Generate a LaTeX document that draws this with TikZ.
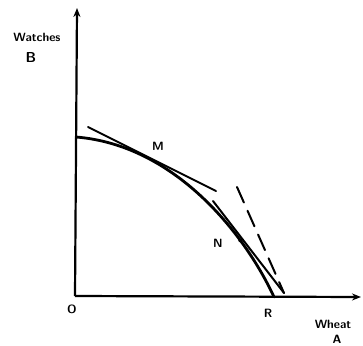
\documentclass[tikz,border=0pt]{standalone}
\usepackage{tikz}
\usetikzlibrary{arrows.meta, positioning}

\begin{document}
\begin{tikzpicture}[
        x=1pt, y=-1pt,
        >={Stealth[length=9pt, width=7pt]},
        axis/.style={line width=2.2pt, ->},
        frontier/.style={line width=2.8pt, line cap=round},
        tangent/.style={line width=2pt, line cap=round},
        lbl/.style={font=\sffamily\bfseries\large, inner sep=1pt}
    ]
    \useasboundingbox (0,0) rectangle (363,345);

    % Achsen
    \coordinate (O) at (75,296);
    \coordinate (ytop) at (77,8);
    \coordinate (xtop) at (361,297);
    \draw[axis] (O) -- (ytop);
    \draw[axis] (O) -- (xtop);

    % Beschriftungen
    \node[lbl] (watches) at (37,37) {Watches};
    \node[lbl, font=\sffamily\bfseries\Large] (B) at (31,58) {B};
    \node[lbl] (o) at (72,309) {O};
    \node[lbl] (R) at (268,313) {R};
    \node[lbl] (wheat) at (333,324) {Wheat};
    \node[lbl] (A) at (337,339) {A};
    \node[lbl] (Mlbl) at (158,146) {M};
    \node[lbl] (Nlbl) at (218,243) {N};

    % Transformationskurve
    \coordinate (curveB) at (76,137);
    \coordinate (curveR) at (274,297);
    \draw[frontier] (curveB) .. controls (175,145) and (245,234)
        .. coordinate[pos=0.72] (Npt) (curveR);

    % Tangente in M
    \coordinate (m1) at (88,127);
    \coordinate (m2) at (216,191);
    \draw[tangent] (m1) -- (m2);

    % Tangente in N (durchgezogen) und gestrichelte Gerade
    \coordinate (t1) at (213,201);
    \coordinate (t2) at (284,293);
    \draw[tangent] (t1) -- (t2);
    \coordinate (n1) at (237,187);
    \draw[tangent, dash pattern=on 17pt off 9pt] (n1) -- (t2);

    % Punkt N
    \fill (Npt) circle (2pt);
\end{tikzpicture}
\end{document}
